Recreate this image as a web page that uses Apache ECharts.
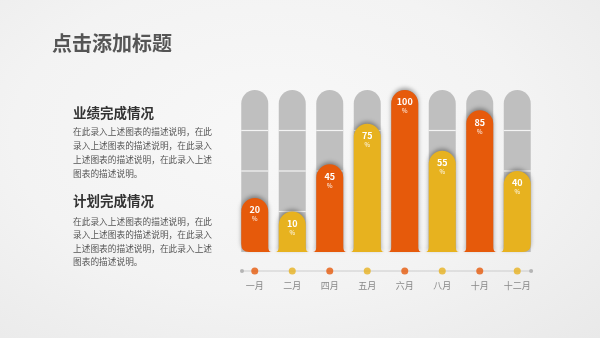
<!DOCTYPE html>
<html>
<head>
<meta charset="utf-8">
<script src="https://cdn.jsdelivr.net/npm/echarts@6/dist/echarts.min.js"></script>
<style>
html,body{margin:0;padding:0;width:600px;height:338px;overflow:hidden;
background:radial-gradient(ellipse at 45% 40%, #f8f8f8 0%, #f3f3f3 55%, #e9e9e9 100%);}
#c{width:600px;height:338px;}
</style>
</head>
<body>
<div id="c"></div>
<script>
const months = ['一月','二月','四月','五月','六月','八月','十月','十二月'];
const values = [20, 10, 45, 75, 100, 55, 85, 40];
const separatorLevels = [10, 40, 70];
const orange = '#E65A0B', yellow = '#E7B21F', gray = '#BFBFBF';
const barColors = [orange, yellow, orange, yellow, orange, yellow, orange, yellow];
const titleText = '点击添加标题';
const heading1 = '业绩完成情况';
const heading2 = '计划完成情况';
const bodyLines = ['在此录入上述图表的描述说明，在此','录入上述图表的描述说明，在此录入','上述图表的描述说明，在此录入上述','图表的描述说明。'];

const FONT = '"Noto Sans CJK SC", "Noto Sans", sans-serif';
const chart = echarts.init(document.getElementById('c'), null, {renderer:'canvas'});
const HW = 13.5, FL = 3.5, FR = 5, CR = 8;
const n = months.length;

function grayItem(params, api){
  const i = api.value(0);
  const b = api.coord([i, -20]);
  const t = api.coord([i, 100]);
  const cx = b[0], x0 = cx-HW, x1 = cx+HW, yB = b[1], yT = t[1];
  const d = `M${x0},${yT+HW} A${HW},${HW} 0 0 1 ${x1},${yT+HW} L${x1},${yB} L${x0},${yB} Z`;
  const children = [{type:'path', shape:{pathData:d}, style:{fill:gray}}];
  separatorLevels.forEach(function(lv){
    const y = api.coord([i, lv])[1];
    children.push({type:'line', shape:{x1:x0, y1:y, x2:x1, y2:y}, style:{stroke:'#f4f4f4', lineWidth:1.2}});
  });
  return {type:'group', children:children};
}
function colorItem(params, api){
  const i = api.value(0), v = api.value(1);
  const b = api.coord([i, -20]);
  const t = api.coord([i, v]);
  const cx = b[0], x0 = cx-HW, x1 = cx+HW, yB = b[1], yT = t[1];
  let d = `M${x0},${yT+HW} A${HW},${HW} 0 0 1 ${x1},${yT+HW} `;
  if (i === n-1) d += `L${x1},${yB-CR} Q${x1},${yB} ${x1-CR},${yB} `;
  else d += `L${x1},${yB-FR} Q${x1},${yB} ${x1+FL},${yB} `;
  if (i === 0) d += `L${x0+CR},${yB} Q${x0},${yB} ${x0},${yB-CR} Z`;
  else d += `L${x0-FL},${yB} Q${x0},${yB} ${x0},${yB-FR} Z`;
  return {type:'group', children:[
    {type:'path', shape:{pathData:d}, style:{fill:barColors[i], shadowBlur:4, shadowColor:'rgba(0,0,0,0.35)', shadowOffsetY:-2}},
    {type:'text', style:{text:String(v), x:cx, y:yT+12, fill:'#fff', font:'bold 9px '+FONT, textAlign:'center', textVerticalAlign:'middle'}},
    {type:'text', style:{text:'%', x:cx, y:yT+21, fill:'#fff', font:'6px '+FONT, textAlign:'center', textVerticalAlign:'middle'}}
  ]};
}

const graphics = [
  {type:'text', left:52, top:33, style:{text:titleText, font:'bold 20px '+FONT, fill:'#555'}},
  {type:'text', left:73, top:106, style:{text:heading1, font:'bold 13.5px '+FONT, fill:'#333'}},
  {type:'text', left:73, top:125, style:{text:bodyLines.join('\n'), font:'8.7px '+FONT, fill:'#555', lineHeight:13.8}},
  {type:'text', left:73, top:194, style:{text:heading2, font:'bold 13.5px '+FONT, fill:'#333'}},
  {type:'text', left:73, top:215, style:{text:bodyLines.join('\n'), font:'8.7px '+FONT, fill:'#555', lineHeight:13.4}}
];

chart.setOption({
  backgroundColor:'transparent',
  animation:false,
  graphic:graphics,
  grid:[
    {left:236, width:300, top:90, height:162},
    {left:236, width:300, top:266, height:10}
  ],
  xAxis:[
    {type:'category', gridIndex:0, data:months, show:false},
    {type:'category', gridIndex:1, data:months, axisLine:{show:false}, axisTick:{show:false},
     axisLabel:{color:'#888', fontSize:9, fontFamily:FONT, margin:5}},
    {type:'value', gridIndex:1, min:-0.5, max:7.5, show:false}
  ],
  yAxis:[
    {type:'value', gridIndex:0, min:-20, max:100, show:false},
    {type:'value', gridIndex:1, min:-1, max:1, show:false}
  ],
  series:[
    {type:'custom', xAxisIndex:0, yAxisIndex:0, z:1, renderItem:grayItem, data:values.map((v,i)=>[i,v])},
    {type:'custom', xAxisIndex:0, yAxisIndex:0, z:3, renderItem:colorItem, data:values.map((v,i)=>[i,v])},
    {type:'line', xAxisIndex:2, yAxisIndex:1, z:2, data:[[-0.34,0],[7.37,0]],
     lineStyle:{color:'#cccccc', width:1}, symbol:'circle', symbolSize:4, itemStyle:{color:'#b5b5b5'}, silent:true},
    {type:'scatter', xAxisIndex:1, yAxisIndex:1, z:4, symbolSize:7,
     data:values.map((v,i)=>({value:0, itemStyle:{color:barColors[i]}}))}
  ]
});
</script>
</body>
</html>
